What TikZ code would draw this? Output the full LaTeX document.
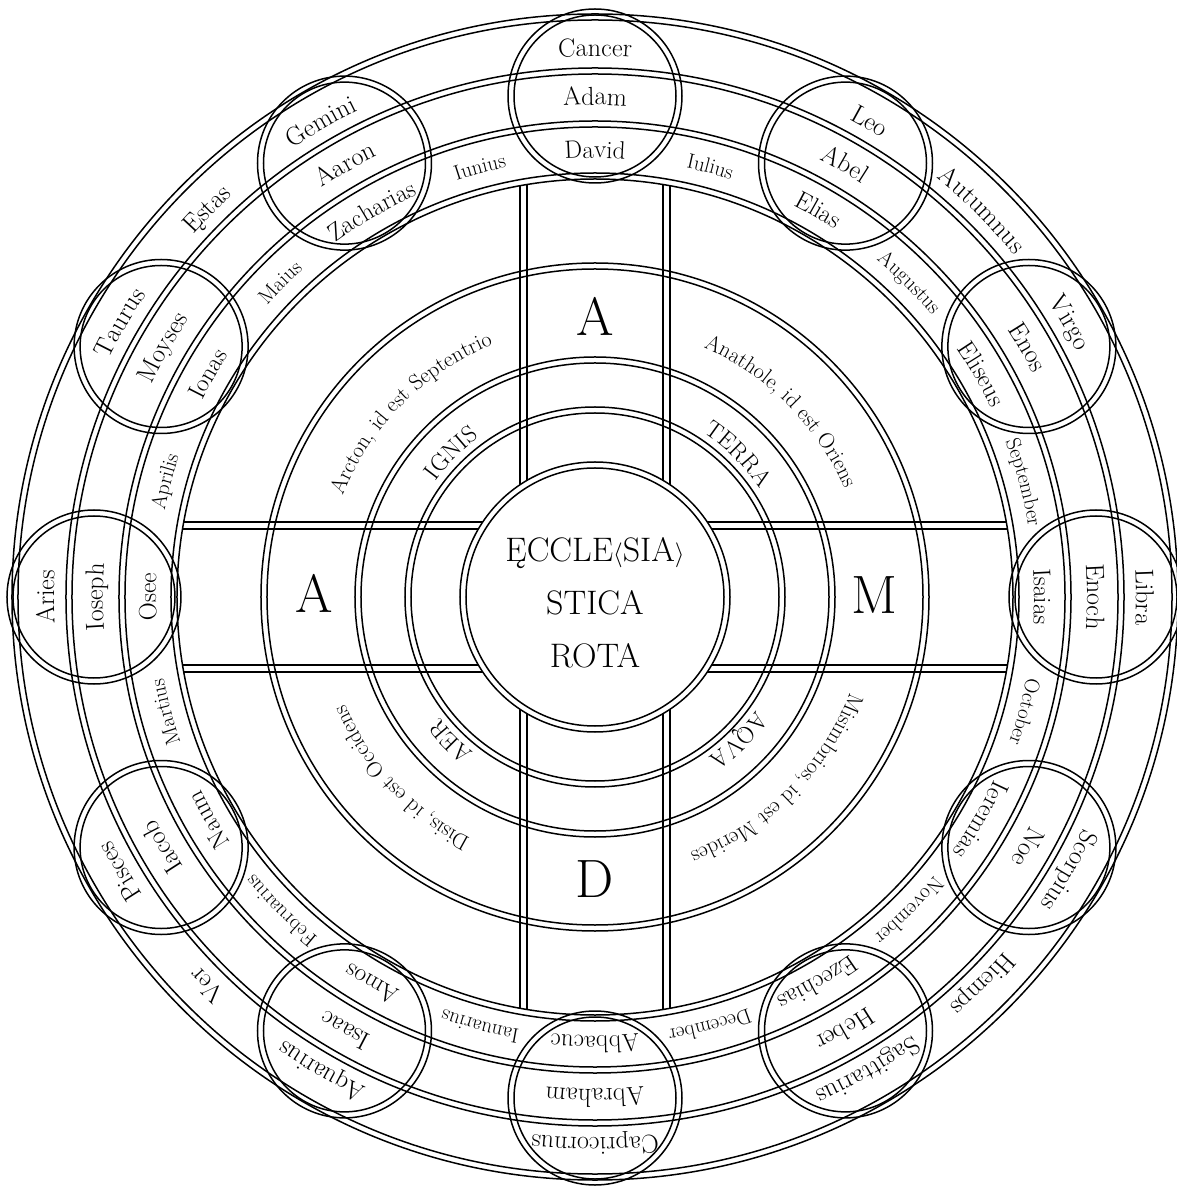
\documentclass[tikz,border=0pt]{standalone}
\usepackage{fontspec}
\usetikzlibrary{decorations.text}
\newcommand\zfont{\fontsize{26}{26}\selectfont}
\newcommand\pfont{\fontsize{25}{25}\selectfont}
\newcommand\mfont{\fontsize{21}{21}\selectfont}
\newcommand\dfont{\fontsize{22}{22}\selectfont}
\newcommand\efont{\fontsize{24}{24}\selectfont}
\newcommand\arctext[4]{\path[decorate,decoration={text along path,text align=center,text={|#3|#4}}] ({#1+40}:#2) arc[start angle={#1+40},end angle={#1-40},radius=#2];}
\begin{document}
\begin{tikzpicture}[x=1pt,y=1pt,ring/.style={line width=1.5pt,black},
  bigletter/.style={font=\fontsize{54}{54}\selectfont,inner sep=0pt}]
\fill[white] (-595,-593) rectangle (581,597);
\useasboundingbox (-595,-593) rectangle (581,597);
% concentric double circles
\foreach \r in {583,577,529,523,476,470,424,418,334,328,240,234,190,184,135,129}
  \draw[ring] (0,0) circle[radius=\r];
% cross bars
\foreach \s in {1,-1}{
  \draw[ring] (112.2,75*\s) -- (411.2,75*\s);
  \draw[ring] (116.6,68*\s) -- (412.4,68*\s);
  \draw[ring] (-112.2,75*\s) -- (-411.2,75*\s);
  \draw[ring] (-116.6,68*\s) -- (-412.4,68*\s);
  \draw[ring] (75*\s,112.2) -- (75*\s,411.2);
  \draw[ring] (68*\s,116.6) -- (68*\s,412.4);
  \draw[ring] (75*\s,-112.2) -- (75*\s,-411.2);
  \draw[ring] (68*\s,-116.6) -- (68*\s,-412.4);
}
% medallions
\foreach \t in {0,30,...,330}{
  \draw[ring] (\t:501) circle[radius=87];
  \draw[ring] (\t:501) circle[radius=81];
}
% centre
\node[font=\fontsize{34}{53}\selectfont,align=center,inner sep=0pt] (rota) at (0,-6) {ĘCCLE$\langle$SIA$\rangle$\\STICA\\ROTA};
% big letters
\node[bigletter] (ltop) at (0,281) {A};
\node[bigletter] (lleft) at (-281,4) {A};
\node[bigletter] (lright) at (279,2) {M};
\node[bigletter] (lbottom) at (0,-282) {D};
% elements
\arctext{135}{197}{\efont}{IGNIS}
\arctext{45}{197}{\efont}{TERRA}
\arctext{-45}{197}{\efont}{AQVA}
\arctext{-135}{197}{\efont}{AER}
% directions
\arctext{135}{272}{\dfont}{Arcton{,} id est Septentrio}
\arctext{45}{272}{\dfont}{Anathole{,} id est Oriens}
\arctext{-45}{272}{\dfont}{Misimbrios{,} id est Merides}
\arctext{-137}{272}{\dfont}{Disis{,} id est Occidens}
% seasons
\arctext{135}{541}{\zfont}{Ęstas}
\arctext{45}{541}{\zfont}{Autumnus}
\arctext{-45}{541}{\zfont}{Hiemps}
\arctext{-135}{541}{\zfont}{Ver}
% months
\arctext{105}{439}{\mfont}{Iunius}
\arctext{75}{439}{\mfont}{Iulius}
\arctext{45}{439}{\mfont}{Augustus}
\arctext{15}{439}{\mfont}{September}
\arctext{-15}{439}{\mfont}{October}
\arctext{-45}{439}{\mfont}{November}
\arctext{-75}{439}{\mfont}{December}
\arctext{-105}{439}{\mfont}{Ianuarius}
\arctext{-135}{439}{\mfont}{Februarius}
\arctext{-165}{439}{\mfont}{Martius}
\arctext{165}{439}{\mfont}{Aprilis}
\arctext{135}{439}{\mfont}{Maius}
% medallions: zodiac
\arctext{90}{541}{\zfont}{Cancer}
\arctext{60}{541}{\zfont}{Leo}
\arctext{30}{541}{\zfont}{Virgo}
\arctext{0}{541}{\zfont}{Libra}
\arctext{-30}{541}{\zfont}{Scorpius}
\arctext{-60}{541}{\zfont}{Sagittarius}
\arctext{-90}{541}{\zfont}{Capricornus}
\arctext{-120}{541}{\zfont}{Aquarius}
\arctext{-150}{541}{\zfont}{Pisces}
\arctext{180}{541}{\zfont}{Aries}
\arctext{150}{541}{\zfont}{Taurus}
\arctext{120}{541}{\zfont}{Gemini}
% patriarchs
\arctext{90}{492}{\zfont}{Adam}
\arctext{60}{492}{\zfont}{Abel}
\arctext{30}{492}{\zfont}{Enos}
\arctext{0}{492}{\zfont}{Enoch}
\arctext{-30}{492}{\zfont}{Noe}
\arctext{-60}{492}{\zfont}{Heber}
\arctext{-90}{492}{\zfont}{Abraham}
\arctext{-120}{492}{\zfont}{Isaac}
\arctext{-150}{492}{\zfont}{Iacob}
\arctext{180}{492}{\zfont}{Ioseph}
\arctext{150}{492}{\zfont}{Moyses}
\arctext{120}{492}{\zfont}{Aaron}
% prophets
\arctext{90}{439}{\pfont}{David}
\arctext{60}{439}{\pfont}{Elias}
\arctext{30}{439}{\pfont}{Eliseus}
\arctext{0}{439}{\pfont}{Isaias}
\arctext{-30}{439}{\pfont}{Ieremias}
\arctext{-60}{439}{\pfont}{Ezechias}
\arctext{-90}{439}{\pfont}{Abbacuc}
\arctext{-120}{439}{\pfont}{Amos}
\arctext{-150}{439}{\pfont}{Naum}
\arctext{180}{439}{\pfont}{Osee}
\arctext{150}{439}{\pfont}{Ionas}
\arctext{120}{439}{\pfont}{Zacharias}
\end{tikzpicture}
\end{document}
